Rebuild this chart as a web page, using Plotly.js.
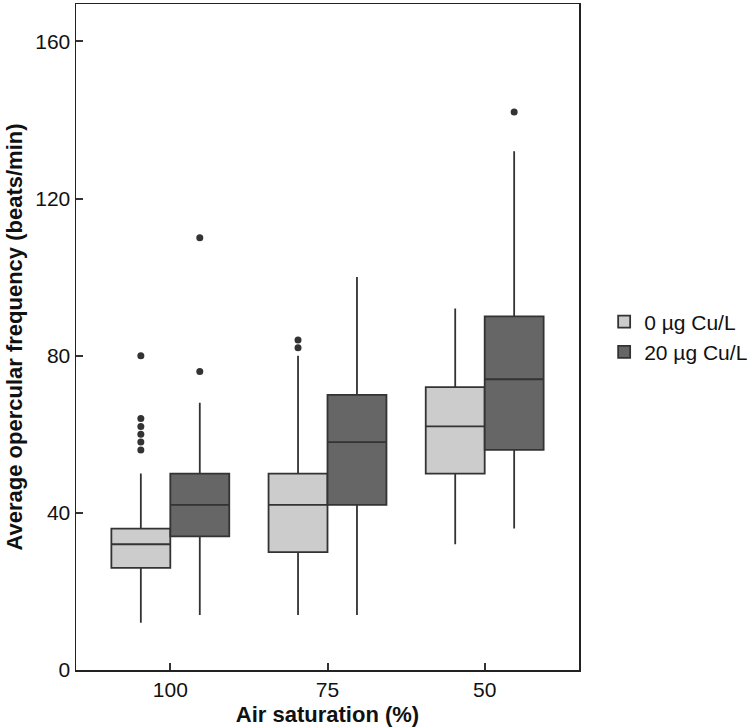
<!DOCTYPE html>
<html>
<head>
<meta charset="utf-8">
<script src="https://cdn.plot.ly/plotly-3.0.1.min.js"></script>
<style>html,body{margin:0;padding:0;background:#fff}#chart{width:755px;height:728px}</style>
</head>
<body>
<div id="chart"></div>
<script>
const categories = ["100", "75", "50"];
const seriesNames = ["0 µg Cu/L", "20 µg Cu/L"];

// 0 µg Cu/L
const ctrlLower = [12, 14, 32];
const ctrlQ1 = [26, 30, 50];
const ctrlMedian = [32, 42, 62];
const ctrlQ3 = [36, 50, 72];
const ctrlUpper = [50, 80, 92];
const ctrlOutliers = [[56, 58, 60, 62, 64, 80], [82, 84], []];

// 20 µg Cu/L
const cuLower = [14, 14, 36];
const cuQ1 = [34, 42, 56];
const cuMedian = [42, 58, 74];
const cuQ3 = [50, 70, 90];
const cuUpper = [68, 100, 132];
const cuOutliers = [[76, 110], [], [142]];

const yTicks = [0, 40, 80, 120, 160];

function boxTrace(name, lower, q1, med, q3, upper, outs, fill) {
  return {
    type: "box",
    name: name,
    x: categories,
    y: outs,
    lowerfence: lower,
    q1: q1,
    median: med,
    q3: q3,
    upperfence: upper,
    boxpoints: "all",
    pointpos: 0,
    jitter: 0,
    whiskerwidth: 0,
    fillcolor: fill,
    line: {color: "#333333", width: 1.8},
    marker: {color: "#333333", size: 7},
    hoverinfo: "skip"
  };
}

const data = [
  boxTrace(seriesNames[0], ctrlLower, ctrlQ1, ctrlMedian, ctrlQ3, ctrlUpper, ctrlOutliers, "#cccccc"),
  boxTrace(seriesNames[1], cuLower, cuQ1, cuMedian, cuQ3, cuUpper, cuOutliers, "#666666")
];

const font = "Liberation Sans, Arial, sans-serif";
const layout = {
  width: 755, height: 728,
  margin: {l: 76, r: 176, t: 4, b: 58, autoexpand: false},
  paper_bgcolor: "#ffffff", plot_bgcolor: "#ffffff",
  boxmode: "group", boxgap: 0.25, boxgroupgap: 0,
  font: {family: font, size: 21, color: "#111111"},
  xaxis: {
    type: "category",
    range: [-0.6, 2.6],
    showline: true, mirror: true, linecolor: "#222222", linewidth: 1.5,
    ticks: "inside", ticklen: 7, tickwidth: 2, tickcolor: "#333333",
    showgrid: false, zeroline: false,
    tickfont: {family: font, size: 21, color: "#111111"},
    title: {text: "<b>Air saturation (%)</b>", font: {family: font, size: 22, color: "#111111"}, standoff: 7}
  },
  yaxis: {
    range: [0, 169.5],
    tickvals: yTicks,
    showline: true, mirror: true, linecolor: "#222222", linewidth: 1.5,
    ticks: "inside", ticklen: 7, tickwidth: 2, tickcolor: "#333333",
    showgrid: false, zeroline: false,
    tickfont: {family: font, size: 21, color: "#111111"},
    title: {text: "<b>Average opercular frequency (beats/min)</b>", font: {family: font, size: 22, color: "#111111"}, standoff: 6}
  },
  legend: {
    x: 1.05, y: 0.5, xanchor: "left", yanchor: "middle",
    font: {family: font, size: 21, color: "#111111"},
    bgcolor: "rgba(0,0,0,0)"
  },
  showlegend: true
};

Plotly.newPlot("chart", data, layout, {staticPlot: true, displayModeBar: false});
</script>
</body>
</html>
